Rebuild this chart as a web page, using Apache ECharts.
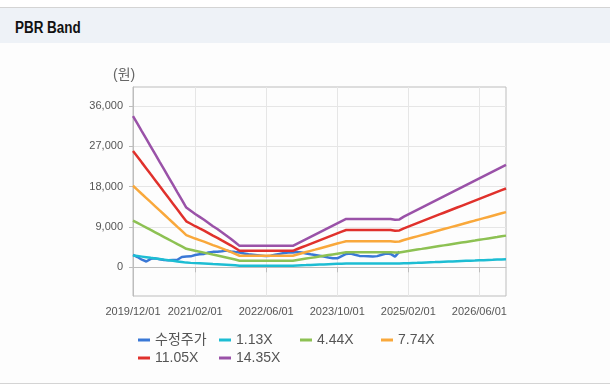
<!DOCTYPE html>
<html><head><meta charset="utf-8">
<script src="https://cdn.jsdelivr.net/npm/echarts@6/dist/echarts.min.js"></script>
<style>
html,body{margin:0;padding:0;width:610px;height:390px;background:#fff;overflow:hidden;}
#topline{position:absolute;left:0;top:7px;width:610px;height:1px;background:#d4d4d4;}
#bar{position:absolute;left:0;top:8px;width:610px;height:35px;background:#eef2f7;}
#bar span{position:absolute;left:15px;top:11px;line-height:16px;font:bold 16px "Liberation Sans",Arial,sans-serif;color:#111;transform:scaleX(0.84);transform-origin:0 50%;white-space:nowrap;}
#body{position:absolute;left:0;top:43px;width:610px;height:340px;background:#fdfdfd;}
#botline{position:absolute;left:0;top:383px;width:610px;height:1px;background:#d4d4d4;}
#chart{position:absolute;left:0;top:0;width:610px;height:390px;}
</style></head><body>
<div id="topline"></div>
<div id="bar"><span>PBR Band</span></div>
<div id="body"></div>
<div id="botline"></div>
<div id="chart"></div>
<script>
// monthly categories 2019/12/01 .. 2026/12/01
const categories = [];
for (let y = 2019, m = 12; y < 2027; ) {
  categories.push(y + '/' + String(m).padStart(2, '0') + '/01');
  m++; if (m > 12) { m = 1; y++; }
  if (y === 2027) break;
}
const xTickLabels = ['2019/12/01','2021/02/01','2022/06/01','2023/10/01','2025/02/01','2026/06/01'];
const yTicks = [0, 9000, 18000, 27000, 36000];
const seriesNames = ['수정주가','1.13X','4.44X','7.74X','11.05X','14.35X'];

const price = [2770,2300,1700,1300,1900,2000,1800,1650,1600,1650,1700,2300,2400,2450,2750,2900,3000,3300,3450,3500,3600,3750,3550,3400,
 3300,3100,2900,2800,2700,2600,2500,2600,2800,3000,3200,3300,
 3300,3400,3300,3100,2900,2770,2600,2400,2200,2050,2000,2500,3000,3100,2800,2550,2500,2450,2400,2500,2800,3100,3000,2400,3500,
 null,null,null,null,null,null,null,null,null,null,null,null,null,null,null,null,null,null,null,null,null,null,null,null];
const band113 = [2658,2524,2390,2257,2122,1989,1854,1721,1587,1453,1319,1185,1051,994,938,887,836,780,723,672,616,559,503,441,
 377,377,377,377,377,377,377,377,377,377,377,377,377,
 418,458,497,537,576,616,655,695,735,774,814,
 851,851,851,851,851,851,851,851,851,851,851,
 836,842,
 890,930,970,1009,1049,1088,1128,1167,1207,1246,1286,1325,1365,1405,1444,1484,1523,1563,1602,1642,1681,1721,1761,1800];
const band444 = [10443,9919,9391,8867,8338,7814,7286,6762,6234,5710,5181,4658,4129,3907,3685,3485,3286,3064,2842,2642,2420,2198,1976,1732,
 1483,1483,1483,1483,1483,1483,1483,1483,1483,1483,1483,1483,1483,
 1643,1798,1954,2109,2264,2420,2575,2731,2886,3041,3197,
 3343,3343,3343,3343,3343,3343,3343,3343,3343,3343,3343,
 3286,3308,
 3499,3654,3810,3965,4120,4276,4431,4587,4742,4897,5053,5208,5364,5519,5674,5830,5985,6141,6296,6451,6607,6762,6918,7073];
const band774 = [18204,17291,16370,15457,14536,13622,12701,11788,10867,9954,9033,8119,7198,6811,6424,6076,5728,5341,4954,4605,4218,3831,3444,3019,
 2585,2585,2585,2585,2585,2585,2585,2585,2585,2585,2585,2585,2585,
 2864,3135,3406,3677,3947,4218,4489,4760,5031,5302,5573,
 5828,5828,5828,5828,5828,5828,5828,5828,5828,5828,5828,
 5728,5766,
 6099,6370,6641,6912,7183,7454,7725,7995,8266,8537,8808,9079,9350,9621,9892,10163,10434,10704,10975,11246,11517,11788,12059,12330];
const band1105 = [25990,24686,23371,22067,20752,19448,18133,16829,15514,14210,12895,11591,10277,9724,9172,8674,8177,7625,7072,6575,6022,5470,4917,4310,
 3691,3691,3691,3691,3691,3691,3691,3691,3691,3691,3691,3691,3691,
 4089,4475,4862,5249,5636,6022,6409,6796,7183,7569,7956,
 8321,8321,8321,8321,8321,8321,8321,8321,8321,8321,8321,
 8177,8232,
 8707,9094,9481,9868,10254,10641,11028,11415,11801,12188,12575,12962,13348,13735,14122,14509,14895,15282,15669,16056,16442,16829,17216,17603];
const band1435 = [33751,32058,30350,28657,26949,25256,23548,21855,20147,18454,16746,15053,13346,12628,11911,11265,10619,9902,9184,8538,7821,7103,6386,5597,
 4793,4793,4793,4793,4793,4793,4793,4793,4793,4793,4793,4793,4793,
 5310,5812,6314,6816,7319,7821,8323,8825,9328,9830,10332,
 10806,10806,10806,10806,10806,10806,10806,10806,10806,10806,10806,
 10619,10691,
 11308,11810,12312,12815,13317,13819,14321,14824,15326,15828,16330,16833,17335,17837,18339,18842,19344,19846,20348,20851,21353,21855,22357,22860];
const colors = ['#3a78d6','#1dbdd3','#8dc153','#f9a83b','#e0312c','#9a52a8'];

const FONT = '"Liberation Sans", Arial, "Noto Sans CJK KR", sans-serif';
const labelInterval = (idx, val) => xTickLabels.indexOf(categories[idx]) >= 0;
const dataSets = [price, band113, band444, band774, band1105, band1435];

const chart = echarts.init(document.getElementById('chart'));
chart.setOption({
  animation: false,
  backgroundColor: 'transparent',
  textStyle: { fontFamily: FONT },
  grid: { left: 133, top: 87, width: 373, height: 209, show: true, borderColor: '#bdbdbd', borderWidth: 1, backgroundColor: 'transparent' },
  graphic: [{ type: 'text', left: 113, top: 68, style: { text: '(원)', fontSize: 14, fill: '#666', fontFamily: FONT } }],
  xAxis: {
    type: 'category', data: categories, boundaryGap: false,
    axisLine: { lineStyle: { color: '#bdbdbd' } },
    axisTick: { show: true, interval: labelInterval, length: 5, lineStyle: { color: '#bdbdbd' } },
    axisLabel: { interval: labelInterval, color: '#555', fontSize: 11, margin: 10, fontFamily: FONT },
    splitLine: { show: true, interval: labelInterval, lineStyle: { color: '#e6e6e6' } }
  },
  yAxis: {
    type: 'value', min: -6400, max: 40250,
    axisLine: { show: true, lineStyle: { color: '#bdbdbd' } },
    axisTick: { show: true, length: 4, customValues: yTicks, lineStyle: { color: '#bdbdbd' } },
    axisLabel: { customValues: yTicks, color: '#555', fontSize: 11, margin: 10, fontFamily: FONT,
      formatter: v => Number(v).toLocaleString('en-US') },
    splitLine: { show: true, lineStyle: { color: '#e6e6e6' } }
  },
  legend: {
    left: 138, top: 333, width: 330, orient: 'horizontal', padding: 0,
    icon: 'rect', itemWidth: 12, itemHeight: 3, itemGap: 4,
    textStyle: { fontSize: 14, color: '#555', width: 60, lineHeight: 14, fontFamily: FONT },
    data: seriesNames
  },
  series: seriesNames.map((n, i) => ({
    name: n, type: 'line', data: dataSets[i], symbol: 'none', showSymbol: false,
    lineStyle: { width: 2.5, color: colors[i] }, itemStyle: { color: colors[i] },
    emphasis: { disabled: true }
  }))
});
</script>
</body></html>
